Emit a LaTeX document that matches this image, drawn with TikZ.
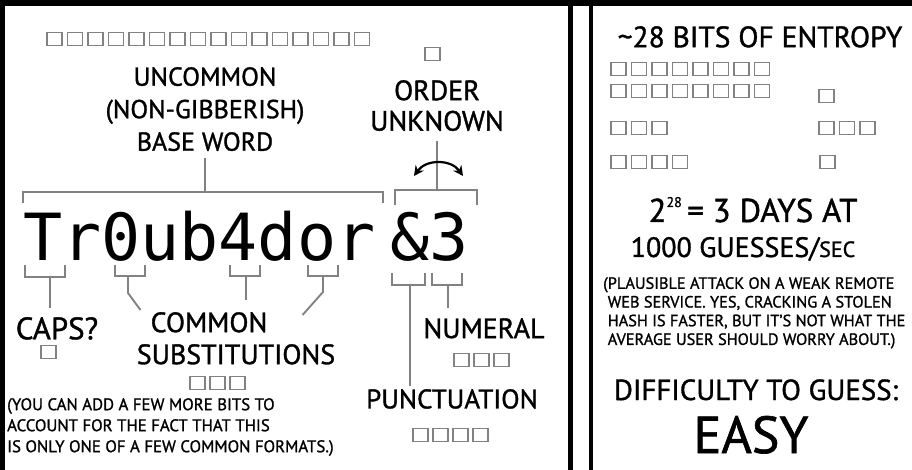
\documentclass[tikz,border=0pt]{standalone}
\usepackage{fontspec}
\setmainfont{PT Sans}[FakeBold=1.2]
\newfontfamily\pwfont{DejaVu Sans Mono}
\usetikzlibrary{arrows.meta, positioning, calc}
\definecolor{bitgray}{RGB}{130,130,130}
\newcommand{\hand}[2]{\fontsize{#1}{#2}\selectfont}
% a row of entropy squares: count, left x, centre y, pitch
\newcommand{\bitrow}[4]{\foreach \k in {1,...,#1} \draw[bit] ({#2+(\k-1)*#4},{#3-6.5}) rectangle ++(15,13);}

\begin{document}
\begin{tikzpicture}[x=1pt, y=-1pt,
    lbl/.style={inner sep=0pt, align=center, font=\hand{27}{32}},
    note/.style={inner sep=0pt, align=left, font=\hand{16.8}{21}},
    pw/.style={inner sep=0pt, font=\pwfont\hand{65}{65}},
    bit/.style={draw=bitgray, line width=1.6pt},
    brk/.style={draw=bitgray, line width=1.9pt},
    swap/.style={{Stealth[length=10pt,width=10pt]}-{Stealth[length=10pt,width=10pt]}, line width=2.2pt}
]
\useasboundingbox (0,0) rectangle (912,470);
% panel frames
\fill (0,0) rectangle (912,6);
\fill (0,0) rectangle (5,470);
\fill (568,0) rectangle (573,470);
\fill (589,0) rectangle (593,470);

% the password
\node[pw, anchor=base west] (word) at (23,260) {Tr0ub4dor};
\node[pw, anchor=base west] (sym) at (390,260) {\&3};

% labels above the word
\node[lbl, font=\hand{26}{32.5}, anchor=north] (base) at (205,67) {UNCOMMON\\(NON-GIBBERISH)\\BASE WORD};
\node[lbl, font=\hand{28}{30.5}, anchor=north] (order) at (437,80) {ORDER\\UNKNOWN};

% labels below the word
\node[lbl, font=\hand{31}{31}, anchor=north] (caps) at (57,317) {CAPS?};
\node[lbl, font=\hand{28}{28}, anchor=north] (common) at (209,312) {COMMON};
\node[lbl, font=\hand{28}{28}, anchor=north] (subs) at (236,344) {SUBSTITUTIONS};
\node[lbl, font=\hand{28}{28}, anchor=north] (numeral) at (484,318) {NUMERAL};
\node[lbl, font=\hand{27}{27}, anchor=north] (punct) at (452,389) {PUNCTUATION};
\node[note, anchor=north west] (extra) at (7,398) {(YOU CAN ADD A FEW MORE BITS TO\\ACCOUNT FOR THE FACT THAT THIS\\IS ONLY ONE OF A FEW COMMON FORMATS.)};

% entropy squares, left panel
\bitrow{16}{47}{39}{20.5}
\bitrow{1}{425}{54}{20}
\bitrow{1}{41}{352}{20}
\bitrow{3}{190}{383}{20}
\bitrow{3}{454}{360}{20}
\bitrow{4}{413}{435}{20}

% brackets over the word
\coordinate (wordtop) at (205,192);
\coordinate (symtop) at (437,190);
\draw[brk] (23,203) |- (383,192) -- (383,203);
\draw[brk] (395,205) |- (477,190) -- (477,205);
\draw[brk] ([yshift=-7pt]base.south) -- (wordtop);
\draw[brk] ([yshift=-10pt]order.south) -- (symtop);
\coordinate (swapL) at (414,176);
\coordinate (swapR) at (463,176);
\draw[swap] (swapL) .. controls (426,159) and (451,159) .. (swapR);

% brackets under the letters
\coordinate (capsbr) at (50,277);
\coordinate (zerobr) at (128,276);
\coordinate (fourbr) at (246,276);
\coordinate (obr) at (323,276);
\coordinate (ampbr) at (410,285);
\coordinate (threebr) at (448,285);
\draw[brk] (25,265) |- (65,277) -- (65,265);
\draw[brk] (115,265) |- (145,276) -- (145,265);
\draw[brk] (230,265) |- (260,276) -- (260,265);
\draw[brk] (308,265) |- (338,276) -- (338,265);
\draw[brk] (392,273) |- (425,285) -- (425,273);
\draw[brk] (432,273) |- (462,285) -- (462,273);
\draw[brk] (capsbr) -- ([yshift=9pt]capsbr |- caps.north);
\draw[brk] (zerobr) -- ++(0,17) -- ([xshift=-10pt,yshift=2pt]common.north west);
\draw[brk] (fourbr) -- ([yshift=12pt]fourbr |- common.north);
\draw[brk] (obr) -- ++(0,16) -- ([xshift=35pt,yshift=-3pt]common.north east);
\draw[brk] (ampbr) -- ([yshift=3pt]ampbr |- punct.north);
\draw[brk] (threebr) -- ([yshift=10pt]threebr |- numeral.north);

% right panel
\node[lbl, font=\hand{29.5}{29.5}, anchor=north] (entropy) at (760,26) {\textasciitilde 28 BITS OF ENTROPY};
\bitrow{8}{611}{69}{20.5}
\bitrow{8}{611}{91}{20.5}
\bitrow{1}{819}{96}{20.5}
\bitrow{3}{611}{128}{20.5}
\bitrow{3}{819}{128}{20.5}
\bitrow{4}{611}{162}{20.5}
\bitrow{1}{820}{162}{20.5}
\node[lbl, font=\hand{33}{33}, anchor=base] (days) at (753,222) {2\raisebox{15pt}{\hand{14}{14}28}\,= 3 DAYS AT};
\node[lbl, font=\hand{28}{28}, anchor=base] (rate) at (743,257) {1000 GUESSES/{\hand{22}{22}SEC}};
\node[note, font=\hand{16.3}{18.7}, anchor=north west] (attack) at (603,277) {(PLAUSIBLE ATTACK ON A WEAK REMOTE\\\hphantom{(}WEB SERVICE. YES, CRACKING A STOLEN\\\hphantom{(}HASH IS FASTER, BUT IT'S NOT WHAT THE\\\hphantom{(}AVERAGE USER SHOULD WORRY ABOUT.)};
\node[lbl, font=\hand{29}{29}, anchor=base] (diff) at (756,400) {DIFFICULTY TO GUESS:};
\node[lbl, font=\hand{52}{52}, anchor=base] (easy) at (751,453) {EASY};
\end{tikzpicture}
\end{document}
